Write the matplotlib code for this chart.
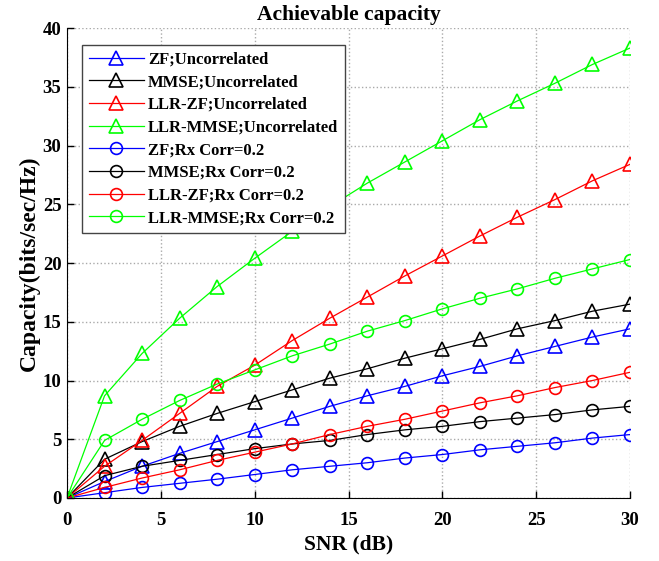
import matplotlib.pyplot as plt

plt.rcParams['font.family'] = ['Liberation Serif', 'DejaVu Serif']
plt.rcParams['font.weight'] = 'bold'

snr = [0, 2, 4, 6, 8, 10, 12, 14, 16, 18, 20, 22, 24, 26, 28, 30]

zf_uncorr = [0, 1.4, 2.7, 3.8, 4.8, 5.8, 6.8, 7.8, 8.7, 9.5, 10.4, 11.2, 12.1, 12.9, 13.7, 14.4]
mmse_uncorr = [0, 3.3, 4.8, 6.1, 7.2, 8.2, 9.2, 10.2, 11.0, 11.9, 12.7, 13.5, 14.4, 15.1, 15.9, 16.5]
llrzf_uncorr = [0, 2.7, 4.9, 7.2, 9.5, 11.3, 13.4, 15.3, 17.1, 18.9, 20.6, 22.3, 23.9, 25.4, 27.0, 28.4]
llrmmse_uncorr = [0, 8.7, 12.3, 15.3, 18.0, 20.4, 22.7, 24.8, 26.8, 28.6, 30.4, 32.2, 33.8, 35.3, 36.9, 38.3]

zf_corr = [0, 0.45, 0.9, 1.25, 1.6, 2.0, 2.4, 2.7, 3.0, 3.4, 3.7, 4.1, 4.4, 4.7, 5.1, 5.4]
mmse_corr = [0, 1.9, 2.7, 3.2, 3.7, 4.2, 4.6, 4.9, 5.4, 5.8, 6.1, 6.5, 6.8, 7.1, 7.5, 7.8]
llrzf_corr = [0, 0.9, 1.7, 2.4, 3.2, 3.9, 4.6, 5.4, 6.1, 6.7, 7.4, 8.1, 8.7, 9.4, 10.0, 10.7]
llrmmse_corr = [0, 4.9, 6.7, 8.3, 9.7, 10.9, 12.1, 13.1, 14.2, 15.1, 16.1, 17.0, 17.8, 18.7, 19.5, 20.3]

series = [
    (zf_uncorr, 'b', '^', 'ZF;Uncorrelated'),
    (mmse_uncorr, 'k', '^', 'MMSE;Uncorrelated'),
    (llrzf_uncorr, 'r', '^', 'LLR-ZF;Uncorrelated'),
    (llrmmse_uncorr, '#00ff00', '^', 'LLR-MMSE;Uncorrelated'),
    (zf_corr, 'b', 'o', 'ZF;Rx Corr=0.2'),
    (mmse_corr, 'k', 'o', 'MMSE;Rx Corr=0.2'),
    (llrzf_corr, 'r', 'o', 'LLR-ZF;Rx Corr=0.2'),
    (llrmmse_corr, '#00ff00', 'o', 'LLR-MMSE;Rx Corr=0.2'),
]

fig = plt.figure(figsize=(6.59, 5.61), dpi=100)
ax = fig.add_axes([0.1017, 0.1123, 0.8543, 0.8377])

for y, c, m, lab in series:
    ax.plot(snr, y, color=c, marker=m, markersize=10 if m == '^' else 8.5,
            markerfacecolor='none', markeredgewidth=1.2, linewidth=0.9, label=lab)

ax.set_xlim(0, 30)
ax.set_ylim(0, 40)
ax.set_xticks([0, 5, 10, 15, 20, 25, 30])
ax.set_yticks([0, 5, 10, 15, 20, 25, 30, 35, 40])
ax.grid(True, linestyle=':', color='#aaaaaa', linewidth=1)
ax.set_axisbelow(True)
ax.spines['top'].set_visible(False)
ax.spines['right'].set_visible(False)
ax.tick_params(direction='in', length=5, labelsize=13.5, width=1)
ax.tick_params(axis='x', pad=10)
ax.tick_params(axis='y', pad=4)
for lbl in ax.get_xticklabels() + ax.get_yticklabels():
    lbl.set_fontweight('bold')

ax.set_xlabel('SNR (dB)', fontsize=15.5, fontweight='bold', labelpad=4)
ax.set_ylabel('Capacity(bits/sec/Hz)', fontsize=17, fontweight='bold', labelpad=2)
ax.set_title('Achievable capacity', fontsize=15.5, fontweight='bold', pad=6)

leg = ax.legend(loc='upper left', bbox_to_anchor=(0.027, 0.964), borderaxespad=0,
                labelspacing=0.4, handlelength=3.3, handletextpad=0.25,
                borderpad=0.4, fancybox=False, framealpha=1, edgecolor='#444444',
                prop={'weight': 'bold', 'size': 12})
leg.get_frame().set_linewidth(1.0)

fig.savefig('out.png', dpi=100)
